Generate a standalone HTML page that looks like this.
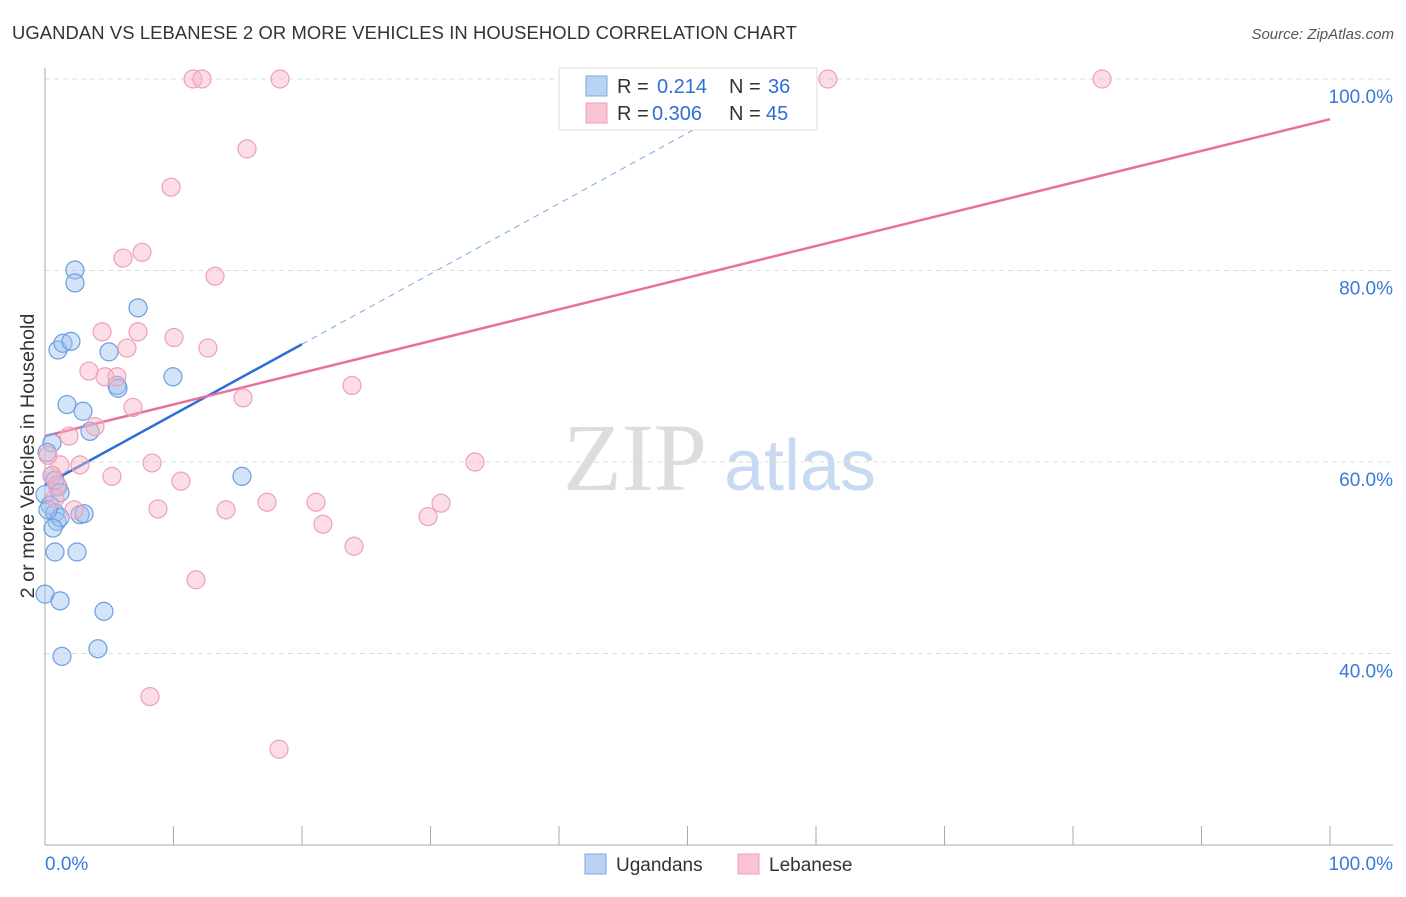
<!DOCTYPE html>
<html><head><meta charset="utf-8"><style>
body{margin:0;background:#fff;font-family:"Liberation Sans",sans-serif;}
</style></head><body>
<svg id="chart" width="1406" height="892" xmlns="http://www.w3.org/2000/svg" font-family="Liberation Sans, sans-serif">
<text x="12" y="39" font-size="18.4" letter-spacing="0.1" fill="#333">UGANDAN VS LEBANESE 2 OR MORE VEHICLES IN HOUSEHOLD CORRELATION CHART</text>
<text x="1394" y="39" font-size="15" fill="#555" text-anchor="end" font-style="italic">Source: ZipAtlas.com</text>
<g>
<text x="635" y="490" font-size="96" fill="#ddd" text-anchor="middle" font-family="Liberation Serif, serif">ZIP</text>
<text x="800" y="490" font-size="72" fill="#c8daf2" text-anchor="middle">atlas</text>
</g>
<g id="grid"></g><g id="axes"></g><g id="lines"></g><g id="points"></g>
<text transform="translate(34,456) rotate(-90)" font-size="19.8" fill="#333" text-anchor="middle">2 or more Vehicles in Household</text>
<g>
<rect x="559" y="68" width="258" height="62" fill="#fff" stroke="#ddd"/>
<rect x="586" y="76" width="21" height="20" fill="#b8d2f4" stroke="#7aa8e6"/>
<rect x="586" y="103" width="21" height="20" fill="#f9c4d3" stroke="#eea0b8"/>
<text x="617" y="93" font-size="20" fill="#333">R = </text><text x="657" y="93" font-size="20" fill="#2e6fd6">0.214</text>
<text x="729" y="93" font-size="20" fill="#333">N = </text><text x="768" y="93" font-size="20" fill="#2e6fd6">36</text>
<text x="617" y="120" font-size="20" fill="#333">R = </text><text x="652" y="120" font-size="20" fill="#2e6fd6">0.306</text>
<text x="729" y="120" font-size="20" fill="#333">N = </text><text x="766" y="120" font-size="20" fill="#2e6fd6">45</text>
</g>
<g>
<rect x="585" y="854" width="21" height="20" fill="#b8d2f4" stroke="#7aa8e6"/>
<text x="616" y="871" font-size="19" fill="#333">Ugandans</text>
<rect x="738" y="854" width="21" height="20" fill="#f9c4d3" stroke="#eea0b8"/>
<text x="769" y="871" font-size="19" fill="#333">Lebanese</text>
</g>
</svg>
<script>
const yTicks=[40,60,80,100];
const yTickLabels=["40.0%","60.0%","80.0%","100.0%"];
const xTicks=[0,10,20,30,40,50,60,70,80,90,100];
const ugX=[2.33,2.33,7.24,1.01,1.40,2.02,4.98,9.96,5.60,5.68,1.71,2.96,3.50,0.54,0.16,1.01,0.54,0,0.78,1.17,0.39,0.78,0.93,1.17,2.72,3.04,0.62,0.78,2.49,0,1.17,4.59,1.32,4.12,15.33,0.23];
const ugY=[80.05,78.7,76.1,71.7,72.4,72.6,71.5,68.9,68.0,67.7,66.0,65.3,63.2,62.0,61.0,57.4,58.6,56.6,58.1,56.8,55.5,54.7,53.8,54.2,54.5,54.6,53.1,50.6,50.6,46.2,45.5,44.4,39.7,40.5,58.5,55.0];
const lbX=[11.52,12.22,18.29,60.93,82.26,15.72,9.81,7.55,6.07,13.23,4.44,7.24,10.04,6.38,12.68,3.42,4.67,5.60,23.89,15.41,6.85,3.89,1.87,1.17,2.72,8.33,33.46,0.54,5.21,10.58,0.93,2.26,8.79,14.09,17.28,21.09,30.82,21.63,29.81,24.05,11.75,8.17,18.21,0.78,0.23];
const lbY=[100,100,100,100,100,92.7,88.7,81.9,81.3,79.4,73.6,73.6,73.0,71.9,71.9,69.5,68.9,68.9,68.0,66.7,65.7,63.7,62.7,59.7,59.7,59.9,60.0,58.6,58.5,58.0,57.6,55.0,55.1,55.0,55.8,55.8,55.7,53.5,54.3,51.2,47.7,35.5,30.0,56.2,60.7];
const ugTrend=[57.6,0.735];
const lbTrend=[62.7,0.331];
const NS='http://www.w3.org/2000/svg';
const X=v=>45+v*12.85, Y=v=>79+(100-v)*9.575;
function mk(tag,attrs,parent){const e=document.createElementNS(NS,tag);for(const k in attrs)e.setAttribute(k,attrs[k]);document.getElementById(parent).appendChild(e);return e;}
yTicks.forEach((t,i)=>{
 const g=mk('line',{x1:45,x2:1393,y1:Y(t),y2:Y(t),stroke:'#ddd','stroke-dasharray':'5,4'},'grid');
 
 
 const l=mk('text',{x:1393,y:Y(t)+24,'font-size':19,fill:'#3b78d8','text-anchor':'end'},'grid');
 l.textContent=yTickLabels[i];
 
 
});
const xa=mk('line',{x1:45,x2:1393,y1:845,y2:845,stroke:'#aaa'},'axes');


const ya=mk('line',{x1:45,x2:45,y1:68,y2:845,stroke:'#aaa'},'axes');


xTicks.forEach(t=>{const e=mk('line',{x1:X(t),x2:X(t),y1:826,y2:845,stroke:'#aaa'},'axes');
 
 });
const x0=mk('text',{x:45,y:870,'font-size':19,fill:'#3b78d8'},'axes');x0.textContent='0.0%';


const x1=mk('text',{x:1393,y:870,'font-size':19,fill:'#3b78d8','text-anchor':'end'},'axes');x1.textContent='100.0%';


function pts(xs,ys,fill,stroke,name){xs.forEach((x,i)=>{const c=mk('circle',{cx:X(x),cy:Y(ys[i]),r:9,fill:fill,stroke:stroke,'stroke-width':1.2},'points');
 
 });}
pts(ugX,ugY,'rgba(160,196,240,0.45)','#6a9fe0','ugandan-point');
pts(lbX,lbY,'rgba(248,180,200,0.45)','#eea0b8','lebanese-point');
const bd=mk('line',{x1:X(20),y1:Y(ugTrend[0]+ugTrend[1]*20),x2:X(56),y2:Y(ugTrend[0]+ugTrend[1]*56),stroke:'#7aa8e6','stroke-width':1,'stroke-dasharray':'6,5'},'lines');


const bs=mk('line',{x1:X(0),y1:Y(ugTrend[0]),x2:X(20),y2:Y(ugTrend[0]+ugTrend[1]*20),stroke:'#2e6fd6','stroke-width':2.5},'lines');


const ps=mk('line',{x1:X(0),y1:Y(lbTrend[0]),x2:X(100),y2:Y(lbTrend[0]+lbTrend[1]*100),stroke:'#e8709a','stroke-width':2.5},'lines');


</script>
</body></html>
